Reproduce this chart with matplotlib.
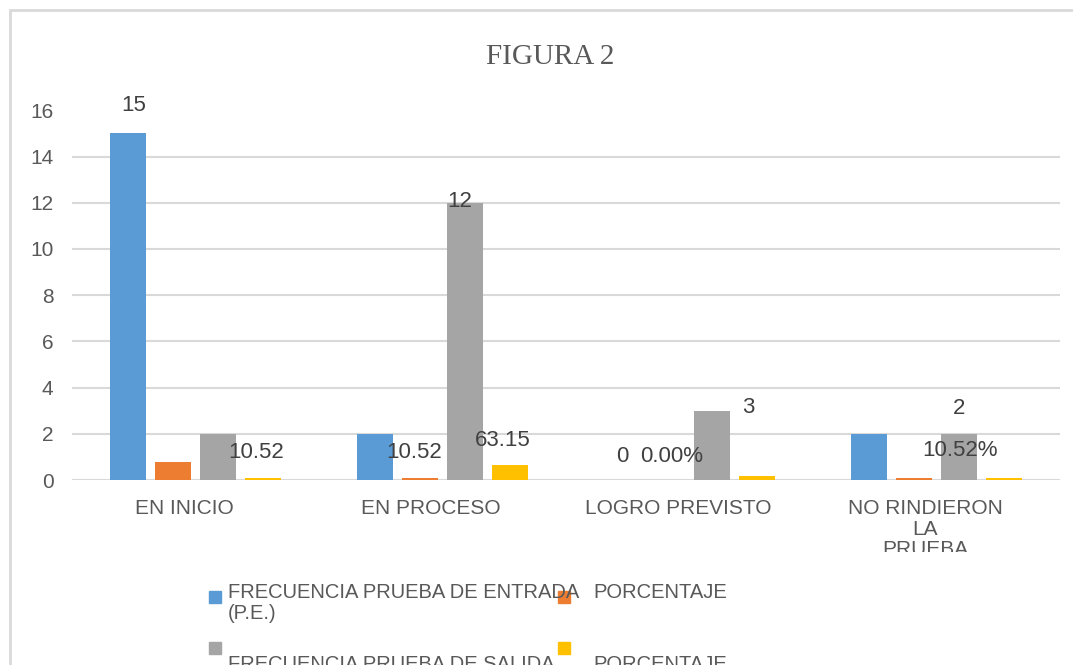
import numpy as np
import matplotlib
matplotlib.use("Agg")
import matplotlib.pyplot as plt
from matplotlib.patches import Rectangle
from matplotlib.transforms import ScaledTranslation, Bbox

# Data
categories = ["EN INICIO", "EN PROCESO", "LOGRO PREVISTO", "NO RINDIERON\nLA\nPRUEBA"]
frec_entrada = [15, 2, 0, 2]
pct_entrada = [0.7894, 0.1052, 0.0, 0.1052]
frec_salida = [2, 12, 3, 2]
pct_salida = [0.1052, 0.6315, 0.1578, 0.1052]
series_names = ["FRECUENCIA PRUEBA DE ENTRADA\n(P.E.)", "PORCENTAJE",
                "\nFRECUENCIA PRUEBA DE SALIDA\n(P.S.)", "\nPORCENTAJE"]
colors = ["#5B9BD5", "#ED7D31", "#A5A5A5", "#FFC000"]

# visible data labels: (text, category index, series index)
label_texts = ["15", "10.52", "10.52", "12", "63.15", "0", "0.00%", "3", "2", "10.52%"]
label_cat = [0, 0, 1, 1, 1, 2, 2, 2, 3, 3]
label_series = [0, 3, 1, 2, 3, 0, 1, 2, 2, 1]

yticks = [0, 2, 4, 6, 8, 10, 12, 14, 16]

W, H = 1073, 665
fig = plt.figure(figsize=(W / 100, H / 100), dpi=100)
plt.rcParams['font.family'] = ['Liberation Sans', 'DejaVu Sans']

# outer chart frame
fig.patches.append(Rectangle((10 / W, -0.1), 1.2, 1 - 10 / H + 0.1, transform=fig.transFigure,
                             fill=False, edgecolor="#D9D9D9", linewidth=2))

ax = fig.add_axes([71.5 / W, 1 - 480 / H, (1060 - 71.5) / W, (480 - 110.4) / H])

series = [frec_entrada, pct_entrada, frec_salida, pct_salida]
x = np.arange(len(categories))
width = 0.1457
step = 0.1822
for j, vals in enumerate(series):
    ax.bar(x + (j - 1.5) * step, vals, width=width, color=colors[j], zorder=3)

ax.set_xlim(-0.5, len(categories) - 0.5)
ax.set_ylim(0, 16)
ax.set_yticks(yticks)
ax.set_yticklabels([str(v) for v in yticks])
ax.yaxis.grid(True, color="#D9D9D9", linewidth=1.5, zorder=0)
ax.get_ygridlines()[-1].set_visible(False)
for s in ax.spines.values():
    s.set_visible(False)
ax.tick_params(axis='y', length=0, pad=13, labelsize=15, labelcolor="#595959")
ax.tick_params(axis='x', length=0, pad=14, labelsize=15, labelcolor="#595959")

ax.set_xticks(x)
ax.set_xticklabels(categories, linespacing=1.1)
shift = ScaledTranslation(-11 / 100, 0, fig.dpi_scale_trans)
clip = Bbox.from_extents(0, H - 552, W, H)
for lab in ax.get_xticklabels():
    lab.set_transform(lab.get_transform() + shift)
    lab.set_clip_on(True)
    lab.set_clip_box(clip)

# data labels (offsets in pixels from the bar top)
offsets = [(6, 28), (-6, 25), (-6, 25), (-5, 1), (-7, 25), (1, 24), (5, 24), (36, 3), (0, 25), (46, 27)]
for t, c, s, (dx, dy) in zip(label_texts, label_cat, label_series, offsets):
    bx = c + (s - 1.5) * step
    by = series[s][c]
    ax.annotate(t, xy=(bx, by), xytext=(dx, dy), textcoords='offset pixels',
                ha='center', va='center', fontsize=16, color="#404040",
                annotation_clip=False, zorder=5)

# title
fig.text(550 / W, 1 - 57 / H, "FIGURA 2", ha='center', va='center', fontsize=21,
         color="#595959", family=['Liberation Serif', 'DejaVu Serif'])

# legend (two columns, wrapped labels)
col_x = [209, 558]
text_x = [228, 593]
row_y = [591, 642]
for j, name in enumerate(series_names):
    col, row = j % 2, j // 2
    fig.patches.append(Rectangle((col_x[col] / W, 1 - (row_y[row] + 12) / H), 12 / W, 12 / H,
                                 transform=fig.transFigure, color=colors[j]))
    fig.text(text_x[col] / W, 1 - (row_y[row] - 8) / H, name, ha='left', va='top',
             fontsize=14.5, color="#595959", linespacing=1.12)

fig.savefig("out.png", dpi=100)
